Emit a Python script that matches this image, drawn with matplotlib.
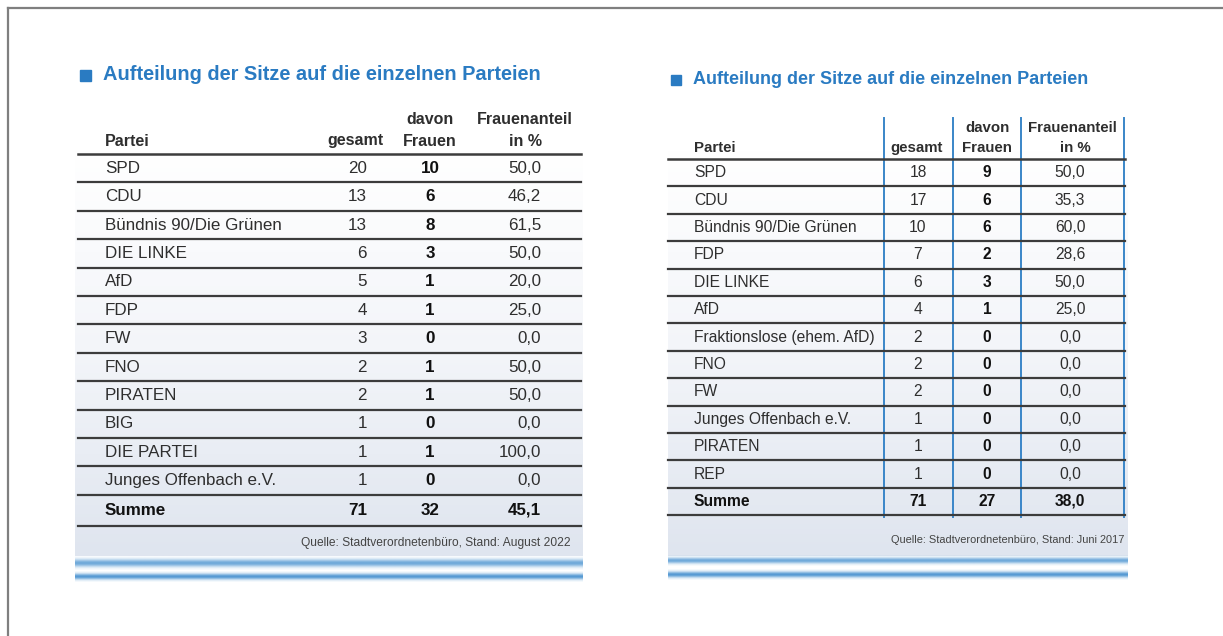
import numpy as np
import matplotlib
matplotlib.use("Agg")
import matplotlib.pyplot as plt
from matplotlib.colors import LinearSegmentedColormap

plt.rcParams['font.family'] = ['Liberation Sans', 'DejaVu Sans']

# --- data: Stand August 2022 ---
parteien_2022 = ["SPD", "CDU", "Bündnis 90/Die Grünen", "DIE LINKE", "AfD", "FDP", "FW",
                 "FNO", "PIRATEN", "BIG", "DIE PARTEI", "Junges Offenbach e.V."]
gesamt_2022 = [20, 13, 13, 6, 5, 4, 3, 2, 2, 1, 1, 1]
frauen_2022 = [10, 6, 8, 3, 1, 1, 0, 1, 1, 0, 1, 0]
anteil_2022 = [50.0, 46.2, 61.5, 50.0, 20.0, 25.0, 0.0, 50.0, 50.0, 0.0, 100.0, 0.0]
summe_2022 = [71, 32, 45.1]

# --- data: Stand Juni 2017 ---
parteien_2017 = ["SPD", "CDU", "Bündnis 90/Die Grünen", "FDP", "DIE LINKE", "AfD",
                 "Fraktionslose (ehem. AfD)", "FNO", "FW", "Junges Offenbach e.V.", "PIRATEN", "REP"]
gesamt_2017 = [18, 17, 10, 7, 6, 4, 2, 2, 2, 1, 1, 1]
frauen_2017 = [9, 6, 6, 2, 3, 1, 0, 0, 0, 0, 0, 0]
anteil_2017 = [50.0, 35.3, 60.0, 28.6, 50.0, 25.0, 0.0, 0.0, 0.0, 0.0, 0.0, 0.0]
summe_2017 = [71, 27, 38.0]

title = "Aufteilung der Sitze auf die einzelnen Parteien"
quelle_2022 = "Quelle: Stadtverordnetenbüro, Stand: August 2022"
quelle_2017 = "Quelle: Stadtverordnetenbüro, Stand: Juni 2017"

BLUE = "#2a7bc2"
TXT = "#2e2e2e"
LINE = "#3c3c3c"

W, H = 1223, 636
fig = plt.figure(figsize=(W / 100, H / 100), dpi=100)
ax = fig.add_axes([0, 0, 1, 1])
ax.set_xlim(0, W)
ax.set_ylim(H, 0)
ax.axis("off")


def px(size):
    # pixel height -> points
    return size * 0.72


def fmt(v):
    return f"{v:.1f}".replace(".", ",")


bg_cmap = LinearSegmentedColormap.from_list("bg", ["#ffffff", "#f3f5f9", "#dfe5ef"])


def panel_bg(x0, x1, y0, y1):
    grad = np.linspace(0, 1, 200).reshape(-1, 1)
    ax.imshow(grad, cmap=bg_cmap, extent=[x0, x1, y1, y0], aspect="auto", zorder=0)


def blue_band(x0, x1, y0, y1, strength=1.0):
    prof = np.exp(-((np.linspace(-1, 1, 40)) ** 2) / 0.3) * strength
    img = np.zeros((40, 1, 4))
    img[..., 0] = 0.33
    img[..., 1] = 0.60
    img[..., 2] = 0.83
    img[:, 0, 3] = prof
    ax.imshow(img, extent=[x0, x1, y1, y0], aspect="auto", zorder=1)


def title_row(x, y, size, sq):
    ax.add_patch(plt.Rectangle((x, y - sq / 2), sq, sq, color=BLUE, zorder=3))
    ax.text(x + sq + 12, y, title, color=BLUE, fontsize=px(size), fontweight="bold",
            va="center", ha="left", zorder=3)


# ---------------- left table (2022) ----------------
lx0, lx1 = 78, 581
panel_bg(75, 583, 150, 556)
title_row(80, 75, 20, 11)

fs = px(16)
ax.text(105, 141, "Partei", fontsize=fs, fontweight="bold", color=TXT, va="center")
ax.text(383, 141, "gesamt", fontsize=fs, fontweight="bold", color=TXT, va="center", ha="right")
ax.text(430, 119, "davon", fontsize=fs, fontweight="bold", color=TXT, va="center", ha="center")
ax.text(430, 141, "Frauen", fontsize=fs, fontweight="bold", color=TXT, va="center", ha="center")
ax.text(525, 119, "Frauenanteil", fontsize=fs, fontweight="bold", color=TXT, va="center", ha="center")
ax.text(542, 141, "in %", fontsize=fs, fontweight="bold", color=TXT, va="center", ha="right")

fb = px(17)
top, pitch = 154, 28.4
ax.plot([lx0, lx1], [top, top], color=LINE, lw=1.8, zorder=2)
for i, name in enumerate(parteien_2022):
    yc = top + pitch * (i + 0.5)
    ax.text(105, yc, name, fontsize=fb, color=TXT, va="center")
    ax.text(367, yc, str(gesamt_2022[i]), fontsize=fb, color=TXT, va="center", ha="right")
    ax.text(430, yc, str(frauen_2022[i]), fontsize=fb, fontweight="bold", color="#111",
            va="center", ha="center")
    ax.text(541, yc, fmt(anteil_2022[i]), fontsize=fb, color=TXT, va="center", ha="right")
    yl = top + pitch * (i + 1)
    ax.plot([lx0, lx1], [yl, yl], color=LINE, lw=1.6, zorder=2)

ys = top + pitch * (len(parteien_2022) + 0.55)
ax.text(105, ys, "Summe", fontsize=fb, fontweight="bold", color="#111", va="center")
ax.text(367, ys, str(summe_2022[0]), fontsize=fb, fontweight="bold", color="#111", va="center", ha="right")
ax.text(430, ys, str(summe_2022[1]), fontsize=fb, fontweight="bold", color="#111", va="center", ha="center")
ax.text(541, ys, fmt(summe_2022[2]), fontsize=fb, fontweight="bold", color="#111", va="center", ha="right")
yb = top + pitch * (len(parteien_2022) + 1.1)
ax.plot([lx0, lx1], [yb, yb], color=LINE, lw=1.6, zorder=2)
ax.text(571, 543, quelle_2022, fontsize=px(12), color="#444", va="center", ha="right")
blue_band(75, 583, 556, 570, 0.85)
blue_band(75, 583, 571, 582)

# ---------------- right table (2017) ----------------
rx0, rx1 = 668, 1125
panel_bg(668, 1128, 150, 556)
title_row(671, 80, 18, 10)

fs2 = px(15)
ax.text(694, 148, "Partei", fontsize=fs2, fontweight="bold", color=TXT, va="center")
ax.text(943, 148, "gesamt", fontsize=fs2, fontweight="bold", color=TXT, va="center", ha="right")
ax.text(987, 128, "davon", fontsize=fs2, fontweight="bold", color=TXT, va="center", ha="center")
ax.text(987, 148, "Frauen", fontsize=fs2, fontweight="bold", color=TXT, va="center", ha="center")
ax.text(1072, 128, "Frauenanteil", fontsize=fs2, fontweight="bold", color=TXT, va="center", ha="center")
ax.text(1075, 148, "in %", fontsize=fs2, fontweight="bold", color=TXT, va="center", ha="center")

fb2 = px(15.6)
top2, pitch2 = 159, 27.4
nrows2 = len(parteien_2017) + 1
bottom2 = top2 + pitch2 * nrows2
for xv in [884, 953, 1021, 1124]:
    ax.plot([xv, xv], [118, bottom2 + 2], color="#3a86c8", lw=1.4, zorder=2)
ax.plot([rx0, rx1], [top2, top2], color=LINE, lw=1.8, zorder=2)
for i, name in enumerate(parteien_2017):
    yc = top2 + pitch2 * (i + 0.5)
    ax.text(694, yc, name, fontsize=fb2, color=TXT, va="center")
    ax.text(918, yc, str(gesamt_2017[i]), fontsize=fb2, color=TXT, va="center", ha="center")
    ax.text(987, yc, str(frauen_2017[i]), fontsize=fb2, fontweight="bold", color="#111",
            va="center", ha="center")
    ax.text(1070, yc, fmt(anteil_2017[i]), fontsize=fb2, color=TXT, va="center", ha="center")
    yl = top2 + pitch2 * (i + 1)
    ax.plot([rx0, rx1], [yl, yl], color=LINE, lw=1.6, zorder=2)

ys2 = top2 + pitch2 * (len(parteien_2017) + 0.5)
ax.text(694, ys2, "Summe", fontsize=fb2, fontweight="bold", color="#111", va="center")
ax.text(918, ys2, str(summe_2017[0]), fontsize=fb2, fontweight="bold", color="#111", va="center", ha="center")
ax.text(987, ys2, str(summe_2017[1]), fontsize=fb2, fontweight="bold", color="#111", va="center", ha="center")
ax.text(1070, ys2, fmt(summe_2017[2]), fontsize=fb2, fontweight="bold", color="#111", va="center", ha="center")
ax.plot([rx0, rx1], [bottom2, bottom2], color=LINE, lw=1.6, zorder=2)
ax.text(1124, 540, quelle_2017, fontsize=px(11), color="#444", va="center", ha="right")
blue_band(668, 1128, 555, 566, 0.85)
blue_band(668, 1128, 569, 580)

# page border (top and left edge)
ax.plot([8, W], [8, 8], color="#7f7f7f", lw=1.6, zorder=4)
ax.plot([8, 8], [8, H], color="#7f7f7f", lw=1.6, zorder=4)

fig.savefig("out.png", dpi=100, facecolor="white")
